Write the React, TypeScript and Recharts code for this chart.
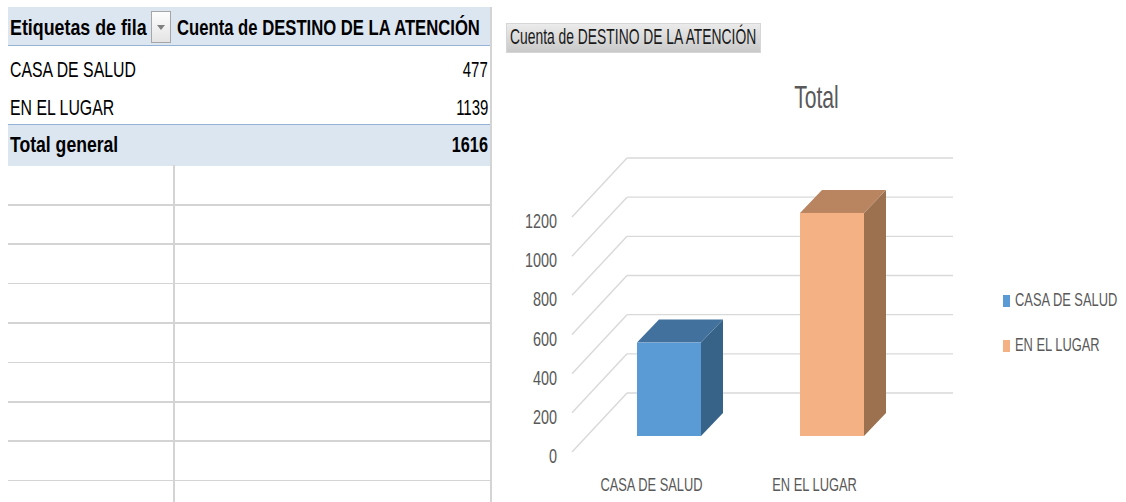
import React from 'react'
import { BarChart, Bar, XAxis, YAxis, CartesianGrid } from 'recharts'

const categories = ['CASA DE SALUD', 'EN EL LUGAR']
const counts = [477, 1139]
const yTicks = [0, 200, 400, 600, 800, 1000, 1200]
const tableHeader = ['Etiquetas de fila', 'Cuenta de DESTINO DE LA ATENCIÓN']
const totalLabel = 'Total general'
const chartTitle = 'Total'
const fieldButton = 'Cuenta de DESTINO DE LA ATENCIÓN'

const frontColors = ['#5b9bd5', '#f4b183']
const topColors = ['#41719c', '#b98460']
const sideColors = ['#386389', '#9c7150']

// no Calibri here, so squeeze Liberation Sans horizontally
const FONT = "'Liberation Sans', Arial, sans-serif"

const data = categories.map((name, i) => ({ name, value: counts[i] }))

// depth offsets for the fake 3D look
const DX = 22
const DY = -23
const FRONT = { dx: -15, dy: 16 }
const BACK = { dx: 40, dy: -43 }

function Box3D(props: any) {
    const { x, y, width, height, index } = props
    const top = `${x},${y} ${x + DX},${y + DY} ${x + width + DX},${y + DY} ${x + width},${y}`
    const side = `${x + width},${y} ${x + width + DX},${y + DY} ${x + width + DX},${y + height + DY} ${x + width},${y + height}`
    return (
        <g>
            <polygon points={side} fill={sideColors[index]} />
            <polygon points={top} fill={topColors[index]} />
            <rect x={x} y={y} width={width} height={height} fill={frontColors[index]} />
        </g>
    )
}

function GridLine(props: any) {
    const { x1, x2, y1 } = props
    return (
        <g key={props.key}>
            <line x1={x1 + BACK.dx} y1={y1 + BACK.dy} x2={x2 + BACK.dx} y2={y1 + BACK.dy} stroke="#d9d9d9" strokeWidth={1.4} />
            <line x1={x1 + FRONT.dx} y1={y1 + FRONT.dy} x2={x1 + BACK.dx} y2={y1 + BACK.dy} stroke="#d9d9d9" strokeWidth={1.4} />
        </g>
    )
}

function SqText({ x, y, sx, size, anchor, children, fill = '#595959' }: any) {
    return (
        <text transform={`translate(${x},${y}) scale(${sx},1)`} textAnchor={anchor} fill={fill} fontSize={size} fontFamily={FONT}>
            {children}
        </text>
    )
}

function YTick(props: any) {
    const { y, payload } = props
    return (
        <SqText x={57} y={y + 27} sx={0.74} size={19.5} anchor="end">
            {payload.value}
        </SqText>
    )
}

function XTick(props: any) {
    const { x, payload } = props
    return (
        <SqText x={x - 17} y={491} sx={0.715} size={18} anchor="middle">
            {payload.value}
        </SqText>
    )
}

function Squeeze({ sx, origin = 'left', children }: any) {
    return <span style={{ display: 'inline-block', transform: `scaleX(${sx})`, transformOrigin: origin, whiteSpace: 'nowrap' }}>{children}</span>
}

function LegendBox() {
    return (
        <div style={{ position: 'absolute', left: 1003, top: 289, fontFamily: FONT, fontSize: 18, color: '#595959', lineHeight: '22px' }}>
            {categories.map((c, i) => (
                <div key={c} style={{ position: 'relative', height: 45 }}>
                    <span style={{ position: 'absolute', left: 0, top: 6, width: 7, height: 12, background: frontColors[i] }} />
                    <span style={{ position: 'absolute', left: 12, top: 0 }}>
                        <Squeeze sx={0.715}>{c}</Squeeze>
                    </span>
                </div>
            ))}
        </div>
    )
}

const rowH = 39.4
const cell: React.CSSProperties = { position: 'absolute', fontFamily: FONT, fontSize: 22, color: '#000', lineHeight: '22px', whiteSpace: 'nowrap' }

function PivotTable() {
    const total = counts.reduce((a, b) => a + b, 0)
    const gridRows = Array.from({ length: 8 }, (_, i) => 204 + i * rowH)
    const rowTops = [59, 97]
    return (
        <div style={{ position: 'absolute', left: 0, top: 0, width: 500, height: 502 }}>
            <div style={{ position: 'absolute', left: 8, top: 7, width: 483, height: 38, background: '#dce6f1', borderBottom: '1.5px solid #95b3d7' }} />
            <div style={{ position: 'absolute', left: 8, top: 124, width: 483, height: 41, background: '#dce6f1', borderTop: '1.5px solid #95b3d7' }} />
            <div style={{ position: 'absolute', left: 490, top: 7, width: 2, height: 495, background: '#d4d4d4' }} />
            <div style={{ position: 'absolute', left: 173, top: 165, width: 1.5, height: 337, background: '#d4d4d4' }} />
            {gridRows.map((y) => (
                <div key={y} style={{ position: 'absolute', left: 8, top: y, width: 483, height: 1.5, background: '#d4d4d4' }} />
            ))}
            <div style={{ ...cell, left: 10, top: 17, fontWeight: 700 }}>
                <Squeeze sx={0.81}>{tableHeader[0]}</Squeeze>
            </div>
            <div style={{ position: 'absolute', left: 151, top: 11, width: 20, height: 32, border: '1px solid #a6a6a6', background: 'linear-gradient(#fdfdfd, #e4e4e4)', boxSizing: 'border-box' }}>
                <div style={{ position: 'absolute', left: 5, top: 13, width: 0, height: 0, borderLeft: '4px solid transparent', borderRight: '4px solid transparent', borderTop: '5px solid #7f7f7f' }} />
            </div>
            <div style={{ ...cell, left: 177, top: 17, fontWeight: 700 }}>
                <Squeeze sx={0.757}>{tableHeader[1]}</Squeeze>
            </div>
            {categories.map((c, i) => (
                <React.Fragment key={c}>
                    <div style={{ ...cell, left: 10, top: rowTops[i] }}>
                        <Squeeze sx={0.72}>{c}</Squeeze>
                    </div>
                    <div style={{ ...cell, right: 12, top: rowTops[i], textAlign: 'right' }}>
                        <Squeeze sx={0.68} origin="right">{counts[i]}</Squeeze>
                    </div>
                </React.Fragment>
            ))}
            <div style={{ ...cell, left: 10, top: 134, fontWeight: 700 }}>
                <Squeeze sx={0.8}>{totalLabel}</Squeeze>
            </div>
            <div style={{ ...cell, right: 12, top: 134, fontWeight: 700, textAlign: 'right' }}>
                <Squeeze sx={0.74} origin="right">{total}</Squeeze>
            </div>
        </div>
    )
}

export default function App() {
    return (
        <div style={{ position: 'absolute', left: 0, top: 0, width: 1126, height: 502, background: '#fff', overflow: 'hidden' }}>
            <PivotTable />
            <div style={{ position: 'absolute', left: 506, top: 23, width: 255, height: 30, background: 'linear-gradient(#ebebeb, #c9c9c9)', border: '1px solid #d6d6d6', boxSizing: 'border-box', fontFamily: FONT, fontSize: 22, color: '#1a1a1a', lineHeight: '22px', paddingLeft: 3, paddingTop: 2, whiteSpace: 'nowrap', overflow: 'hidden' }}>
                <Squeeze sx={0.63}>{fieldButton}</Squeeze>
            </div>
            <LegendBox />
            <div style={{ position: 'absolute', left: 500, top: 0 }}>
                <BarChart width={626} height={502} data={data} margin={{ top: 201, right: 213, bottom: 36, left: 27 }}>
                    <SqText x={316.5} y={108} sx={0.66} size={32} anchor="middle">
                        {chartTitle}
                    </SqText>
                    <CartesianGrid vertical={false} horizontal={(p: any) => <GridLine {...p} />} />
                    <YAxis width={60} domain={[0, 1200]} ticks={yTicks} axisLine={false} tickLine={false} tick={<YTick />} interval={0} />
                    <XAxis dataKey="name" height={30} axisLine={false} tickLine={false} tick={<XTick />} interval={0} />
                    <Bar dataKey="value" barSize={64} shape={(p: any) => <Box3D {...p} />} isAnimationActive={false} />
                </BarChart>
            </div>
        </div>
    )
}
